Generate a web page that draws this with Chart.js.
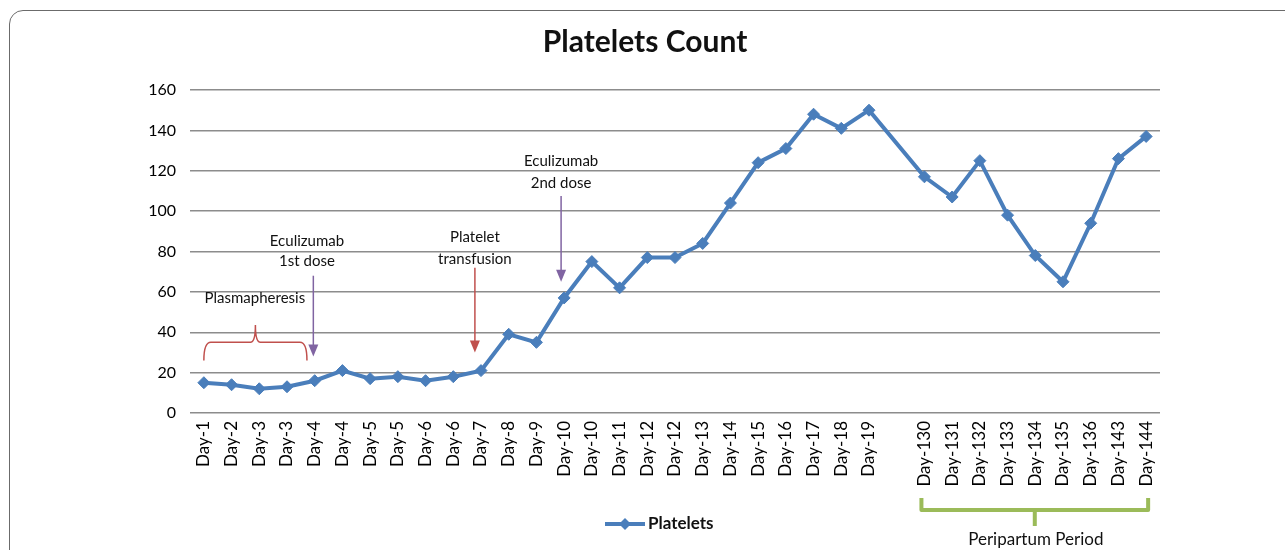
<!DOCTYPE html>
<html>
<head>
<meta charset="utf-8">
<script src="https://cdn.jsdelivr.net/npm/chart.js@4.4.1/dist/chart.umd.min.js"></script>
<style>
  html, body { margin: 0; padding: 0; overflow: hidden; background: #fff; }
  #frame {
    position: absolute; left: 9px; top: 10px; width: 1400px; height: 700px;
    border: 1.5px solid #6b6b6b; border-radius: 14px;
  }
  #wrap { position: absolute; left: 0; top: 0; width: 1285px; height: 550px; }
</style>
</head>
<body>
<div id="frame"></div>
<div id="wrap"><canvas id="chartPlace" width="1285" height="550"></canvas></div>
<script>
// categories (empty slot marks the gap between Day-19 and Day-130)
const days = ["Day-1","Day-2","Day-3","Day-3","Day-4","Day-4","Day-5","Day-5","Day-6","Day-6",
  "Day-7","Day-8","Day-9","Day-10","Day-10","Day-11","Day-12","Day-12","Day-13","Day-14",
  "Day-15","Day-16","Day-17","Day-18","Day-19","",
  "Day-130","Day-131","Day-132","Day-133","Day-134","Day-135","Day-136","Day-143","Day-144"];
const platelets = [15,14,12,13,16,21,17,18,16,18,
  21,39,35,57,75,62,77,77,84,104,
  124,131,148,141,150,null,
  117,107,125,98,78,65,94,126,137];
const yTicks = [0,20,40,60,80,100,120,140,160];

const FONT = "Lato, 'Open Sans', sans-serif";

// notes drawn over the plot, placed by category index and value
function drawNotes(chart) {
  const ctx = chart.ctx;
  const xs = chart.scales.x, ys = chart.scales.y;
  const X = i => xs.getPixelForValue(i);
  const Y = v => ys.getPixelForValue(v);
  const red = "#c0504d", purple = "#8064a2", green = "#9bbb59";

  ctx.save();
  ctx.fillStyle = "#111";
  ctx.font = "15px " + FONT;
  ctx.textAlign = "center";
  ctx.textBaseline = "middle";
  ctx.fillText("Plasmapheresis", X(1.84), Y(57));
  ctx.fillText("Eculizumab", X(3.72), Y(85));
  ctx.fillText("1st dose", X(3.72), Y(75));
  ctx.fillText("Platelet", X(9.78), Y(87));
  ctx.fillText("transfusion", X(9.78), Y(76));
  ctx.fillText("Eculizumab", X(12.89), Y(125));
  ctx.fillText("2nd dose", X(12.89), Y(114));

  // red brace over the plasmapheresis days
  const x0 = X(0), x1 = X(3.72), xm = (x0 + x1) / 2;
  const yEnd = Y(26), yTop = Y(35), yPeak = Y(43.6);
  ctx.strokeStyle = red;
  ctx.lineWidth = 1.5;
  ctx.beginPath();
  ctx.moveTo(x0, yEnd);
  ctx.quadraticCurveTo(x0, yTop, x0 + 7, yTop);
  ctx.lineTo(xm - 5, yTop);
  ctx.quadraticCurveTo(xm, yTop, xm, yPeak);
  ctx.quadraticCurveTo(xm, yTop, xm + 5, yTop);
  ctx.lineTo(x1 - 7, yTop);
  ctx.quadraticCurveTo(x1, yTop, x1, yEnd);
  ctx.stroke();

  function arrow(xi, vFrom, vTo, col) {
    const x = X(xi), ya = Y(vFrom), yb = Y(vTo);
    ctx.strokeStyle = col;
    ctx.fillStyle = col;
    ctx.lineWidth = 1.5;
    ctx.beginPath();
    ctx.moveTo(x, ya);
    ctx.lineTo(x, yb - 10);
    ctx.stroke();
    ctx.beginPath();
    ctx.moveTo(x - 5, yb - 12);
    ctx.lineTo(x + 5, yb - 12);
    ctx.lineTo(x, yb);
    ctx.closePath();
    ctx.fill();
  }
  arrow(3.95, 68, 28, purple);
  arrow(9.78, 72, 30, red);
  arrow(12.89, 107.5, 65, purple);

  // green brace under the peripartum labels
  const g0 = X(26) - 3, g1 = X(34) + 2, gm = (g0 + g1) / 2;
  const b = chart.chartArea.bottom;
  ctx.strokeStyle = green;
  ctx.lineWidth = 4;
  ctx.lineJoin = "round";
  ctx.beginPath();
  ctx.moveTo(g0, b + 85);
  ctx.lineTo(g0, b + 97);
  ctx.lineTo(g1, b + 97);
  ctx.lineTo(g1, b + 85);
  ctx.moveTo(gm, b + 97);
  ctx.lineTo(gm, b + 113);
  ctx.stroke();
  ctx.fillStyle = "#111";
  ctx.font = "17px " + FONT;
  ctx.fillText("Peripartum Period", gm + 1, b + 127);

  // legend: line with a diamond, then the series name
  const ly = 524, lx = 605;
  ctx.strokeStyle = "#4a7ebb";
  ctx.lineWidth = 4;
  ctx.beginPath();
  ctx.moveTo(lx, ly);
  ctx.lineTo(lx + 40, ly);
  ctx.stroke();
  ctx.fillStyle = "#4a7ebb";
  ctx.beginPath();
  ctx.moveTo(lx + 20, ly - 6);
  ctx.lineTo(lx + 26, ly);
  ctx.lineTo(lx + 20, ly + 6);
  ctx.lineTo(lx + 14, ly);
  ctx.closePath();
  ctx.fill();
  ctx.fillStyle = "#111";
  ctx.font = "bold 17px " + FONT;
  ctx.textAlign = "left";
  ctx.fillText("Platelets", lx + 43, ly);
  ctx.restore();
}

const notesPlugin = { id: "notes", afterDraw: drawNotes };

const chartPlace = document.getElementById("chartPlace").getContext("2d");
const chart = new Chart(chartPlace, {
  type: "line",
  data: {
    labels: days,
    datasets: [{
      label: "Platelets",
      data: platelets,
      borderColor: "#4a7ebb",
      backgroundColor: "#4a7ebb",
      borderWidth: 4,
      pointStyle: "rectRot",
      pointRadius: 6,
      pointHoverRadius: 6,
      pointBackgroundColor: "#4a7ebb",
      pointBorderColor: "#4a7ebb",
      pointBorderWidth: 1,
      spanGaps: true,
      tension: 0
    }]
  },
  options: {
    responsive: false,
    animation: false,
    layout: { padding: { left: 130, right: 125, top: 0, bottom: 42 } },
    plugins: {
      legend: { display: false },
      tooltip: { enabled: false },
      title: {
        display: true,
        text: "Platelets Count",
        color: "#111",
        font: { family: FONT, size: 30, weight: "bold" },
        padding: { top: 24, bottom: 30 }
      }
    },
    scales: {
      x: {
        offset: true,
        grid: { display: false, drawTicks: false },
        border: { display: false },
        ticks: {
          autoSkip: false,
          minRotation: 90,
          maxRotation: 90,
          padding: 8,
          color: "#000",
          font: { family: FONT, size: 17 }
        },
        afterFit: s => { s.height = 95; }
      },
      y: {
        min: 0,
        max: 160,
        afterBuildTicks: s => { s.ticks = yTicks.map(v => ({ value: v })); },
        grid: { color: "#8c8c8c", lineWidth: 1.5, drawTicks: false },
        border: { display: false },
        ticks: {
          padding: 14,
          color: "#000",
          font: { family: FONT, size: 16 }
        },
        afterFit: s => { s.width = 60; }
      }
    }
  },
  plugins: [notesPlugin]
});
</script>
</body>
</html>
